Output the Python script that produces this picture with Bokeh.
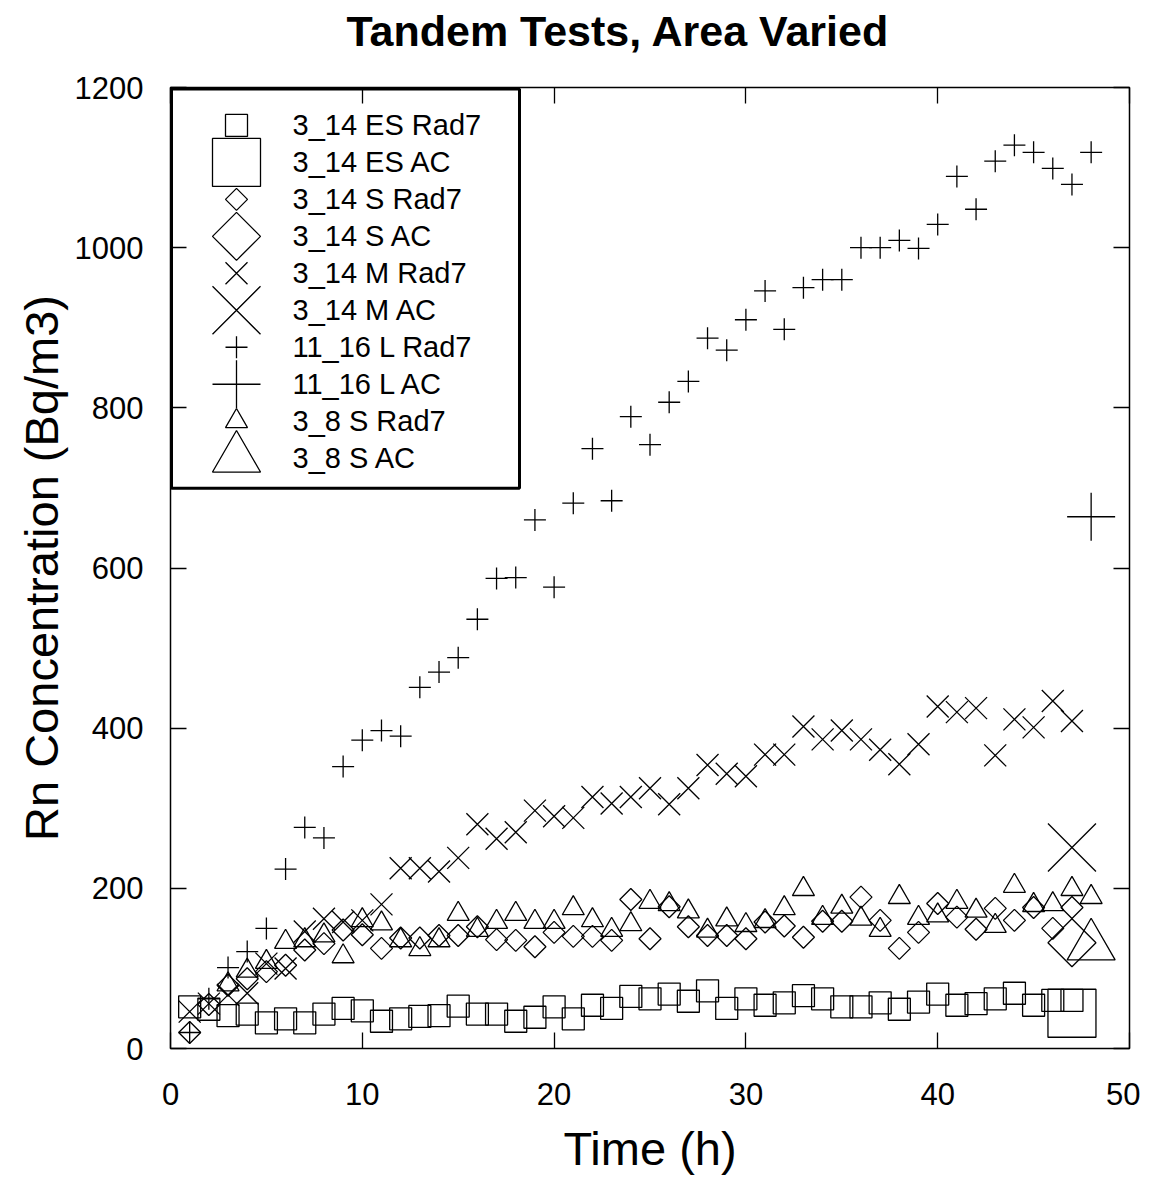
import math
from bokeh.plotting import figure
from bokeh.models import Range1d, LinearAxis, FixedTicker
from bokeh.core.properties import value
from bokeh.embed import file_html
from bokeh.resources import INLINE

# ---------------- data ----------------
es_rad7_t = list(range(1, 48))
es_rad7 = [52, 49, 41, 43, 32, 37, 32, 43, 50, 47, 34, 37, 40, 41, 53, 43, 43, 34, 39, 52,
           37, 54, 50, 65, 62, 68, 59, 72, 50, 62, 54, 57, 66, 62, 52, 52, 57, 49, 58, 68,
           54, 56, 62, 69, 54, 60, 60]
es_ac_t = [47]
es_ac = [44]

s_rad7_t = list(range(1, 48))
s_rad7 = [20, 55, 79, 87, 96, 104, 123, 131, 148, 142, 125, 138, 138, 141, 141, 152, 136, 135, 127, 145,
          140, 140, 135, 186, 137, 177, 152, 141, 141, 137, 158, 153, 139, 159, 159, 189, 160, 125, 145, 181,
          164, 149, 175, 160, 176, 150, 176]
s_ac_t = [47]
s_ac = [132]

m_rad7_t = list(range(1, 48))
m_rad7 = [46, 56, 67, 69, 106, 100, 146, 162, 158, 160, 180, 225, 225, 221, 238, 280, 262, 270, 297, 290,
          288, 314, 306, 314, 325, 305, 325, 354, 343, 340, 367, 367, 402, 386, 397, 386, 373, 355, 380, 427,
          420, 425, 366, 411, 401, 434, 409]
m_ac_t = [47]
m_ac = [251]

l_rad7_t = list(range(1, 49))
l_rad7 = [20, 62, 101, 121, 150, 224, 276, 263, 352, 385, 397, 390, 451, 470, 488, 536, 587, 588, 660, 576,
          681, 749, 684, 789, 754, 807, 833, 887, 872, 910, 946, 898, 950, 960, 960, 1000, 1000, 1009, 999, 1029,
          1089, 1048, 1108, 1128, 1119, 1099, 1079, 1119]
l_ac_t = [48]
l_ac = [664]

s8_rad7_t = list(range(3, 49))
s8_rad7 = [80, 97, 108, 133, 135, 141, 115, 160, 156, 135, 124, 135, 168, 148, 158, 168, 158, 158, 175, 160,
           148, 155, 183, 180, 171, 147, 161, 154, 159, 175, 199, 163, 177, 162, 148, 189, 163, 166, 183, 172,
           153, 203, 179, 180, 199, 189]
s8_ac_t = [48]
s8_ac = [128]

series_labels = ["3_14 ES Rad7", "3_14 ES AC", "3_14 S Rad7", "3_14 S AC", "3_14 M Rad7",
                 "3_14 M AC", "11_16 L Rad7", "11_16 L AC", "3_8 S Rad7", "3_8 S AC"]
chart_title = "Tandem Tests, Area Varied"
x_ticks = [0, 10, 20, 30, 40, 50]
y_ticks = [0, 200, 400, 600, 800, 1000, 1200]

# ---------------- figure ----------------
FONT = "Liberation Sans"
W, H = 1140, 1177
ML, MT = 170, 87
FW, FH = 959, 963
MR, MB = W - ML - FW, H - MT - FH

p = figure(width=W, height=H, x_range=Range1d(0, 50), y_range=Range1d(0, 1200),
           output_backend="svg", toolbar_location=None,
           min_border_left=ML, min_border_right=MR, min_border_top=MT, min_border_bottom=MB)
p.background_fill_color = "white"
p.border_fill_color = "white"
p.outline_line_color = "black"
p.outline_line_width = 1.5
p.xgrid.visible = False
p.ygrid.visible = False

p.title.text = chart_title
p.title.text_font = FONT
p.title.text_font_size = "43px"
p.title.text_font_style = "bold"
p.title.text_color = "black"
p.title.align = "left"
p.title.offset = 176
p.title.standoff = 0

def style_axis(ax, ticks, labels=True):
    ax.ticker = FixedTicker(ticks=ticks)
    ax.major_tick_in = 16
    ax.major_tick_out = 0
    ax.minor_tick_in = 0
    ax.minor_tick_out = 0
    ax.major_tick_line_color = "black"
    ax.major_tick_line_width = 1.3
    ax.axis_line_color = None
    ax.major_label_text_font = FONT
    ax.major_label_text_font_size = "31px"
    ax.major_label_text_color = "black"
    ax.major_label_standoff = 27
    ax.axis_label_text_font = FONT
    ax.axis_label_text_font_size = "47px"
    ax.axis_label_text_font_style = "normal"
    ax.axis_label_text_color = "black"
    if not labels:
        ax.major_label_overrides = {t: "" for t in ticks}
        ax.major_label_text_font_size = "1px"
        ax.major_label_standoff = 0

style_axis(p.xaxis[0], x_ticks)
style_axis(p.yaxis[0], y_ticks)
p.xaxis[0].axis_label = "Time (h)"
p.yaxis[0].axis_label = "Rn Concentration (Bq/m3)"
p.xaxis[0].major_label_standoff = 34
p.xaxis[0].axis_label_standoff = 14
p.yaxis[0].axis_label_standoff = 4

top_ax = LinearAxis()
style_axis(top_ax, x_ticks, labels=False)
p.add_layout(top_ax, "above")
# invisible spacer axis: reserves the gap between the frame and the title
spacer_ax = LinearAxis()
style_axis(spacer_ax, x_ticks, labels=False)
spacer_ax.major_tick_in = 0
spacer_ax.major_tick_out = 33
spacer_ax.major_tick_line_color = None
p.add_layout(spacer_ax, "above")
right_ax = LinearAxis()
style_axis(right_ax, y_ticks, labels=False)
p.add_layout(right_ax, "right")

# ---------------- series ----------------
LW = 1.3
SMALL, BIG = 22, 48
DIAM = 1 / math.sqrt(2)
XS = math.sqrt(2)
styles = [
    (es_rad7_t, es_rad7, "square", SMALL, 0.0),
    (es_ac_t, es_ac, "square", BIG, 0.0),
    (s_rad7_t, s_rad7, "square", SMALL * DIAM, math.pi / 4),
    (s_ac_t, s_ac, "square", BIG * DIAM, math.pi / 4),
    (m_rad7_t, m_rad7, "x", SMALL * XS, 0.0),
    (m_ac_t, m_ac, "x", BIG * XS, 0.0),
    (l_rad7_t, l_rad7, "cross", SMALL, 0.0),
    (l_ac_t, l_ac, "cross", BIG, 0.0),
    (s8_rad7_t, s8_rad7, "triangle", SMALL, 0.0),
    (s8_ac_t, s8_ac, "triangle", BIG, 0.0),
]
for xs, ys, mk, sz, ang in styles:
    p.scatter(x=xs, y=ys, marker=mk, size=sz, angle=ang, fill_color=None,
              line_color="black", line_width=LW)

# ---------------- legend (frame-pixel space) ----------------
p.extra_x_ranges = {"lx": Range1d(0, FW)}
p.extra_y_ranges = {"ly": Range1d(0, FH)}
p.quad(left=[1], right=[349], top=[FH - 1.5], bottom=[FH - 401.5], fill_color="white",
       line_color="black", line_width=3, x_range_name="lx", y_range_name="ly")
row_y = [FH - (38 + 37.05 * i) for i in range(len(series_labels))]
for i, (xs, ys, mk, sz, ang) in enumerate(styles):
    p.scatter(x=[66], y=[row_y[i]], marker=mk, size=sz, angle=ang, fill_color=None,
              line_color="black", line_width=LW, x_range_name="lx", y_range_name="ly")
p.text(x=[122] * len(series_labels), y=row_y, text=series_labels, text_baseline="middle",
       text_align="left", text_font=value(FONT), text_font_size="29px", text_color="black",
       x_range_name="lx", y_range_name="ly")

open("out.html", "w").write(file_html(p, INLINE))
